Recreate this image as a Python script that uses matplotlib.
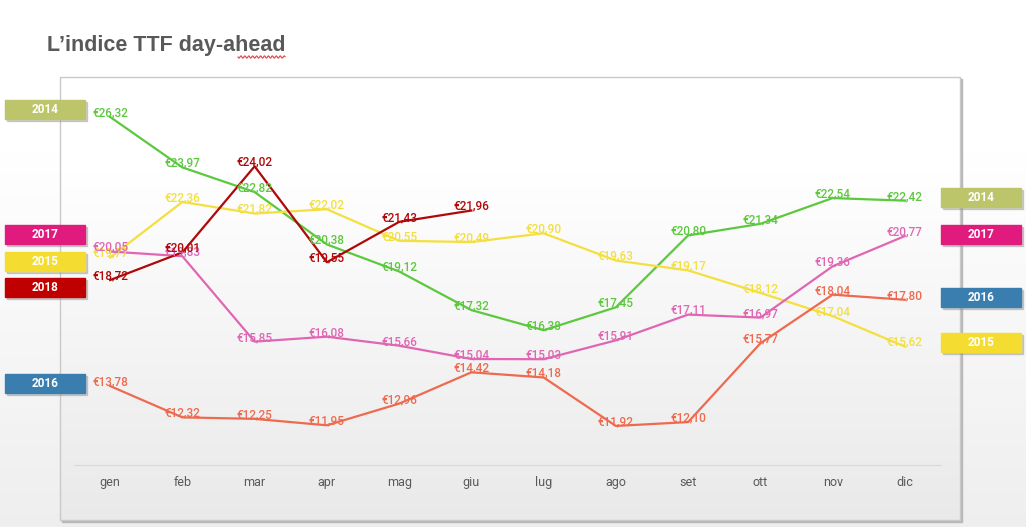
import numpy as np
import matplotlib.pyplot as plt
from matplotlib.patches import Rectangle

# dati: indice TTF day-ahead, media mensile (EUR/MWh)
mesi = ['gen', 'feb', 'mar', 'apr', 'mag', 'giu', 'lug', 'ago', 'set', 'ott', 'nov', 'dic']
anni = ['2014', '2015', '2016', '2017', '2018']
ttf_2014 = [26.32, 23.97, 22.82, 20.38, 19.12, 17.32, 16.38, 17.45, 20.80, 21.34, 22.54, 22.42]
ttf_2015 = [19.77, 22.36, 21.82, 22.02, 20.55, 20.49, 20.90, 19.63, 19.17, 18.12, 17.04, 15.62]
ttf_2016 = [13.78, 12.32, 12.25, 11.95, 12.96, 14.42, 14.18, 11.92, 12.10, 15.77, 18.04, 17.80]
ttf_2017 = [20.05, 19.83, 15.85, 16.08, 15.66, 15.04, 15.03, 15.91, 17.11, 16.97, 19.36, 20.77]
ttf_2018 = [18.72, 20.01, 24.02, 19.55, 21.43, 21.96]
serie = {'2014': ttf_2014, '2015': ttf_2015, '2016': ttf_2016, '2017': ttf_2017, '2018': ttf_2018}

# stile
colori_linea = {'2014': '#5cc83e', '2015': '#f3df3e', '2016': '#ee6a4f',
                '2017': '#e066b4', '2018': '#b00808'}
colori_tag = {'2014': '#bcc56a', '2015': '#f4dc30', '2016': '#3a7eaf',
              '2017': '#e01b7d', '2018': '#c00000'}
# spostamento verticale (px) delle etichette anno per non sovrapporle
spost_sx = {'2014': -7, '2017': -17, '2015': 4, '2018': 7, '2016': -3}
spost_dx = {'2014': -3, '2017': -2, '2016': -2, '2015': -4}

plt.rcParams['font.family'] = ['Roboto', 'DejaVu Sans']

W, H = 1026, 527
fig = plt.figure(figsize=(W / 100, H / 100), dpi=100)

# sfondo in pixel
bg = fig.add_axes([0, 0, 1, 1], zorder=0)
bg.set_xlim(0, W)
bg.set_ylim(H, 0)
bg.axis('off')

yy = np.arange(H)
sfum = 1 - 0.065 * np.clip((yy - 150) / (H - 150), 0, 1)
img = np.repeat(sfum[:, None, None], 3, axis=2)
bg.imshow(img, extent=(0, W, H, 0), aspect='auto', zorder=0)

# riquadro del grafico
bx0, by0, bx1, by1 = 60, 77, 960, 520
yb = np.arange(by0, by1)
sfum_b = 1 - 0.085 * np.clip((yb - 170) / (by1 - 170), 0, 1)
img_b = np.repeat(sfum_b[:, None, None], 3, axis=2)
bg.add_patch(Rectangle((bx0 + 2, by0 + 2), bx1 - bx0, by1 - by0, color='#b8b8b8', zorder=1))
bg.imshow(img_b, extent=(bx0, bx1, by1, by0), aspect='auto', zorder=2)
bg.add_patch(Rectangle((bx0, by0), bx1 - bx0, by1 - by0, fill=False,
                       edgecolor='#c9c9c9', lw=1, zorder=3))

fig.text(47 / W, 1 - 45 / H, 'L\u2019indice TTF day-ahead', fontsize=15.5, fontweight='bold',
         color='#595959', va='center', family=['Liberation Sans', 'DejaVu Sans'])
# sottolineatura ondulata del correttore sotto "ahead"
xo = np.linspace(238, 285, 60)
bg.plot(xo, 57 + 1.2 * np.sin((xo - 238) * 1.6), color='#e04040', lw=0.8, zorder=4)

ax = fig.add_axes([74 / W, 1 - 465 / H, 867 / W, 380 / H], zorder=2)
ax.patch.set_alpha(0)
ax.set_xlim(-0.5, len(mesi) - 0.5)
ax.set_ylim(10.1, 27.81)
for s in ['top', 'right', 'left']:
    ax.spines[s].set_visible(False)
ax.spines['bottom'].set_color('#d9d9d9')
ax.set_yticks([])
ax.set_xticks(range(len(mesi)))
ax.set_xticklabels(mesi, fontsize=9, color='#595959')
ax.tick_params(axis='x', length=0, pad=8)

for anno in anni:
    vals = serie[anno]
    x = np.arange(len(vals))
    ax.plot(x, vals, color=colori_linea[anno], lw=1.6, zorder=3)
    for i, v in zip(x, vals):
        ax.annotate('\u20ac' + f'{v:.2f}'.replace('.', ','), (i, v), xytext=(0, 3),
                    textcoords='offset points', ha='center', va='center',
                    fontsize=8.5, fontweight='medium', color=colori_linea[anno], zorder=4)


def tag(anno, x0, ypx):
    w, h = 80, 19
    bg.add_patch(Rectangle((x0 + 2, ypx - h / 2 + 2), w, h, color='#9a9a9a', alpha=0.45, zorder=5))
    bg.add_patch(Rectangle((x0, ypx - h / 2), w, h, color=colori_tag[anno], zorder=6))
    bg.text(x0 + w / 2, ypx, anno, ha='center', va='center', color='white',
            fontsize=8.5, fontweight='bold', zorder=7)


for anno in anni:
    vals = serie[anno]
    ypx = H - ax.transData.transform((0, vals[0]))[1] + spost_sx[anno]
    tag(anno, 5, ypx)
    if len(vals) == len(mesi):
        ypx = H - ax.transData.transform((0, vals[-1]))[1] + spost_dx[anno]
        tag(anno, 941, ypx)

fig.savefig('out.png', dpi=100)
